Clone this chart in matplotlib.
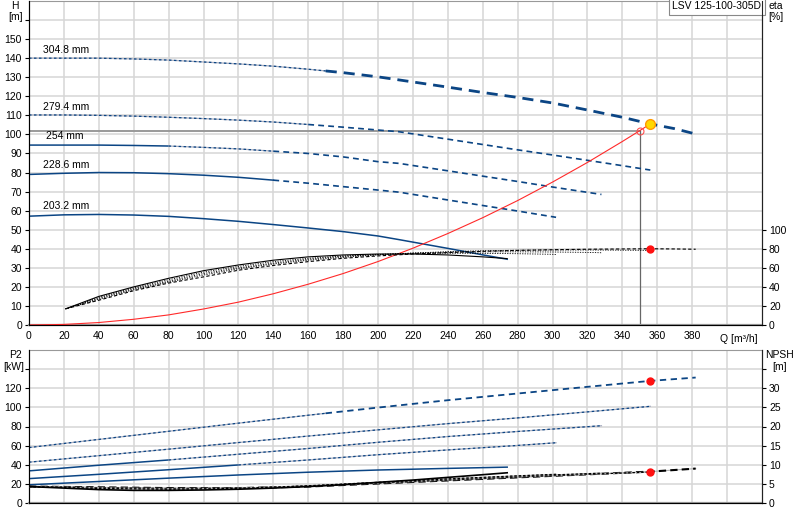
import matplotlib.pyplot as plt

plt.rcParams['font.family'] = ['Liberation Sans', 'DejaVu Sans']
plt.rcParams['font.size'] = 7.5

BLUE = '#0b4584'
GREY = '#aab0c2'
GRID = '#d6d6d6'

# impeller diameters
diameters = ['304.8 mm', '279.4 mm', '254 mm', '228.6 mm', '203.2 mm']
label_q = [8, 8, 10, 8, 8]
label_h = [144.5, 114.5, 99, 83.8, 62.4]

# H curves [m] vs Q [m3/h]
q_h = [
    [0, 20, 40, 60, 80, 100, 120, 140, 160, 170, 180, 200, 212, 240, 260, 280, 300, 320, 340, 356, 370, 382],
    [0, 20, 40, 60, 80, 100, 120, 140, 160, 180, 200, 212, 240, 260, 280, 300, 320, 340, 356],
    [0, 20, 40, 60, 80, 100, 120, 140, 160, 180, 200, 212, 240, 260, 280, 300, 320, 328],
    [0, 20, 40, 60, 80, 100, 120, 140, 160, 180, 200, 212, 240, 260, 280, 300, 302],
    [0, 20, 40, 60, 80, 100, 120, 140, 160, 180, 200, 212, 240, 260, 274],
]
h_vals = [
    [140, 140, 140, 139.6, 139, 138, 137, 135.8, 134.2, 133.3, 132.4, 130.2, 128.6, 124.8, 122, 119.4, 116.5,
     112.8, 109, 105.5, 103, 100.2],
    [110.2, 110.2, 110, 109.6, 109, 108.3, 107.5, 106.5, 105.2, 103.8, 102.3, 101.4, 97.5, 94.7, 91.9, 89.2,
     86.4, 83.6, 81.3],
    [94.4, 94.4, 94.4, 94.2, 93.9, 93.2, 92.4, 91.2, 90, 88.2, 85.7, 84.8, 80.9, 78.1, 75.3, 72.4, 69.6, 68.5],
    [79, 79.6, 80, 79.9, 79.4, 78.6, 77.5, 76, 74.4, 72.6, 70.8, 69.7, 65.6, 62.7, 59.8, 56.8, 56.5],
    [57.1, 57.8, 58, 57.7, 57, 55.8, 54.4, 52.7, 50.9, 49, 46.7, 44.8, 40.2, 36.8, 34.5],
]
# style breaks for each H curve: solid until, dotted until, then dashed
h_solid_end = [0, 0, 80, 140, 274]
h_dot_end = [170, 160, 140, 140, 274]

# efficiency [%]
q_eta = [
    [21, 40, 60, 80, 100, 120, 140, 160, 180, 200, 220, 240, 260, 280, 300, 320, 340, 356, 370, 382],
    [21, 40, 60, 80, 100, 120, 140, 160, 180, 200, 220, 240, 260, 280, 300, 320, 340, 356],
    [21, 40, 60, 80, 100, 120, 140, 160, 180, 200, 220, 240, 260, 280, 300, 320, 328],
    [21, 40, 60, 80, 100, 120, 140, 160, 180, 200, 220, 240, 260, 280, 300, 302],
    [21, 40, 60, 80, 100, 120, 140, 160, 180, 200, 220, 240, 260, 274],
]
eta_vals = [
    [17, 26, 36, 44, 50.5, 57.5, 62.5, 66.5, 70, 72.5, 74.5, 76, 77.3, 78.3, 79, 79.5, 79.8, 80, 79.8, 79.5],
    [17, 27, 37, 45, 52.5, 59, 64, 68, 71, 73.5, 75.5, 77, 78, 78.5, 78.7, 78.7, 78.5, 78.3],
    [17, 28, 38, 46, 54, 60, 65, 69, 72, 74, 75.5, 76.3, 76.7, 76.8, 76.6, 76.2, 75.8],
    [17, 29, 39, 47.5, 55.5, 61.5, 66.5, 70, 72.5, 74, 75, 75.3, 75.2, 74.8, 74.2, 74],
    [17, 30, 40, 49, 57, 63, 68, 71.5, 73.5, 74.5, 74.5, 73.5, 71.5, 69.7],
]

# system curve
q_sys = [0, 20, 40, 60, 80, 100, 120, 140, 160, 180, 200, 220, 240, 260, 280, 300, 320, 340, 350, 356]
h_sys = [0, 0.3, 1.3, 3, 5.3, 8.4, 12, 16.4, 21.4, 27, 33.3, 40.3, 48, 56.3, 65.3, 75, 85.3, 96.3, 102, 105.5]

# duty point
q_duty, h_duty = 350, 102
q_op, h_op, eta_op = 356, 105.5, 80

# P2 [kW]
q_p2 = [
    [0, 40, 80, 120, 160, 170, 200, 240, 280, 320, 356, 382],
    [0, 40, 80, 120, 160, 200, 240, 280, 320, 356],
    [0, 40, 80, 120, 160, 200, 240, 280, 328],
    [0, 40, 80, 120, 160, 200, 240, 280, 302],
    [0, 40, 80, 120, 160, 200, 240, 274],
]
p2_vals = [
    [58, 66.5, 75, 83.5, 91.8, 93.8, 99.8, 107.5, 114.5, 121.5, 127.7, 131.2],
    [42.7, 49.5, 56.3, 63.2, 70, 76.5, 83, 89, 95.3, 101.1],
    [33.6, 39.5, 45, 51, 57, 63.5, 69.5, 74.8, 80.8],
    [25.5, 30, 34.8, 39.8, 45, 50.5, 55.5, 60.2, 63],
    [19, 22.5, 26, 29.3, 32.2, 34.5, 36.2, 37.5],
]
p2_solid_end = [0, 0, 80, 120, 274]
p2_op = 127.7

# NPSH [m]
q_npsh = [
    [0, 40, 80, 120, 160, 200, 240, 280, 320, 356, 382],
    [0, 40, 80, 120, 160, 200, 240, 280, 320, 356],
    [0, 40, 80, 120, 160, 200, 240, 280, 328],
    [0, 40, 80, 120, 160, 200, 240, 280, 302],
    [0, 20, 40, 60, 80, 100, 120, 140, 160, 180, 200, 220, 240, 260, 274],
]
npsh_vals = [
    [4.3, 4.1, 3.9, 3.9, 4.3, 5.1, 5.9, 6.7, 7.5, 8.2, 9.0],
    [4.3, 4.0, 3.8, 3.9, 4.4, 5.2, 6.0, 6.8, 7.5, 8.1],
    [4.3, 3.9, 3.7, 3.8, 4.4, 5.3, 6.2, 7.0, 7.8],
    [4.3, 3.8, 3.6, 3.8, 4.5, 5.4, 6.3, 7.1, 7.5],
    [4.3, 3.9, 3.5, 3.3, 3.3, 3.4, 3.6, 3.9, 4.3, 4.8, 5.4, 6.0, 6.7, 7.4, 7.9],
]
npsh_op = 8.2

q_ticks = list(range(0, 400, 20))


def part(q, v, lo, hi):
    xs, ys = [], []
    for a, b in zip(q, v):
        if lo <= a <= hi:
            xs.append(a)
            ys.append(b)
    return xs, ys


def dotted(ax, x, y, lw=0.9):
    ax.plot(x, y, color=GREY, lw=lw, zorder=3)
    ax.plot(x, y, color=BLUE, lw=lw, dashes=(2, 2), zorder=3)


def style_frame(ax):
    ax.set_xlim(0, 420)
    ax.set_xticks(q_ticks + [400])
    ax.grid(True, color=GRID, lw=1.1)
    ax.set_axisbelow(True)
    ax.spines['left'].set_color('#222222')
    ax.spines['right'].set_color('#222222')
    ax.spines['top'].set_color('#999999')
    ax.spines['bottom'].set_color('#999999')
    ax.spines['bottom'].set_linewidth(1.6)
    ax.tick_params(axis='x', length=0, pad=4)
    ax.tick_params(axis='y', length=3, width=0.8, pad=2)


fig = plt.figure(figsize=(8, 5.2), dpi=100)
ax = fig.add_axes([29 / 800, 195 / 520, 733 / 800, 324 / 520])
ax2 = fig.add_axes([29 / 800, 17 / 520, 733 / 800, 153 / 520])

# ---- top: H / eta ----
style_frame(ax)
ax.set_ylim(0, 170)
ax.set_yticks(range(0, 170, 10))
ax.set_yticklabels([str(v) for v in range(0, 160, 10)] + [''])
ax.set_xticklabels([str(v) for v in q_ticks] + [''])
ax.text(396, -4.5, 'Q [m³/h]', ha='left', va='top')

for i in range(5):
    q, h = q_h[i], h_vals[i]
    if h_solid_end[i] > 0:
        xs, ys = part(q, h, 0, h_solid_end[i])
        ax.plot(xs, ys, color=BLUE, lw=1.1, zorder=3)
    if h_dot_end[i] > h_solid_end[i]:
        xs, ys = part(q, h, h_solid_end[i], h_dot_end[i])
        dotted(ax, xs, ys)
    if q[-1] > h_dot_end[i]:
        xs, ys = part(q, h, h_dot_end[i], q[-1])
        if i == 0:
            ax.plot(xs, ys, color=BLUE, lw=2.0, dashes=(4, 2.5), zorder=3)
        else:
            ax.plot(xs, ys, color=BLUE, lw=1.2, dashes=(3.5, 2.5), zorder=3)
    ax.text(label_q[i], label_h[i], diameters[i], ha='left', va='center')

# duty point lines
ax.plot([0, q_duty], [h_duty, h_duty], color='#9a9a9a', lw=1.4, zorder=2)
ax.plot([q_duty, q_duty], [0, h_duty], color='#666666', lw=0.9, zorder=2)

ax.plot(q_sys, h_sys, color='#ff2a2a', lw=0.8, zorder=4)
ax.plot([q_duty], [h_duty], 'o', ms=5, mfc='none', mec='#ff5050', mew=0.8, zorder=5)
ax.plot([q_op], [h_op], 'o', ms=7, mfc='#ffd800', mec='#ff9a00', mew=1, zorder=6)

ax.text(0.999, 0.999, 'LSV 125-100-305D', transform=ax.transAxes, ha='right', va='top', fontsize=7.5,
        bbox=dict(boxstyle='square,pad=0.35', fc='white', ec='#888888', lw=0.8), zorder=7)

axe = ax.twinx()
axe.set_ylim(0, 340)
axe.set_yticks(range(0, 120, 20))
axe.spines['right'].set_color('#222222')
axe.spines['top'].set_visible(False)
axe.tick_params(axis='y', length=3, width=0.8, pad=2)
for i in range(5):
    if i == 4:
        axe.plot(q_eta[i], eta_vals[i], color='black', lw=0.8, zorder=3)
    else:
        axe.plot(q_eta[i], eta_vals[i], color='black', lw=0.8 if i == 0 else 0.6,
                 dashes=(3, 2) if i == 0 else (1.5, 1.5), zorder=3)
axe.plot([q_op], [eta_op], 'o', ms=5, color='#ff1010', zorder=6)

# ---- bottom: P2 / NPSH ----
style_frame(ax2)
ax2.set_ylim(0, 160)
ax2.set_yticks(range(0, 160, 20))
ax2.set_yticklabels([str(v) for v in range(0, 140, 20)] + [''])
ax2.set_xticklabels([])

for i in range(5):
    q, p = q_p2[i], p2_vals[i]
    if p2_solid_end[i] > 0:
        xs, ys = part(q, p, 0, p2_solid_end[i])
        ax2.plot(xs, ys, color=BLUE, lw=1.1, zorder=3)
    if i == 0:
        xs, ys = part(q, p, 0, 170)
        dotted(ax2, xs, ys)
        xs, ys = part(q, p, 170, q[-1])
        ax2.plot(xs, ys, color=BLUE, lw=1.3, dashes=(3.5, 2.5), zorder=3)
    elif q[-1] > p2_solid_end[i]:
        xs, ys = part(q, p, p2_solid_end[i], q[-1])
        dotted(ax2, xs, ys)
ax2.plot([q_op], [p2_op], 'o', ms=5, color='#ff1010', zorder=6)

axn = ax2.twinx()
axn.set_ylim(0, 40)
axn.set_yticks(range(0, 40, 5))
axn.set_yticklabels([str(v) for v in range(0, 35, 5)] + [''])
axn.spines['right'].set_color('#222222')
axn.spines['top'].set_visible(False)
axn.tick_params(axis='y', length=3, width=0.8, pad=2)
for i in range(5):
    if i == 4:
        axn.plot(q_npsh[i], npsh_vals[i], color='black', lw=1.2, zorder=3)
    else:
        axn.plot(q_npsh[i], npsh_vals[i], color='#b0b0b0', lw=0.8, zorder=3)
        axn.plot(q_npsh[i], npsh_vals[i], color='black', lw=1.5 if i == 0 else 0.9,
                 dashes=(3.5, 2) if i == 0 else (2, 1.5), zorder=3)
axn.plot([q_op], [npsh_op], 'o', ms=5, color='#ff1010', zorder=6)

# axis captions
fig.text(15 / 800, 1 - 6 / 520, 'H', ha='center', va='center')
fig.text(16 / 800, 1 - 17 / 520, '[m]', ha='center', va='center')
fig.text(776 / 800, 1 - 6 / 520, 'eta', ha='center', va='center')
fig.text(776 / 800, 1 - 17 / 520, '[%]', ha='center', va='center')
fig.text(15 / 800, 1 - 355 / 520, 'P2', ha='center', va='center')
fig.text(14 / 800, 1 - 367 / 520, '[kW]', ha='center', va='center')
fig.text(780 / 800, 1 - 355 / 520, 'NPSH', ha='center', va='center')
fig.text(780 / 800, 1 - 367 / 520, '[m]', ha='center', va='center')

fig.savefig('out.png', dpi=100)
